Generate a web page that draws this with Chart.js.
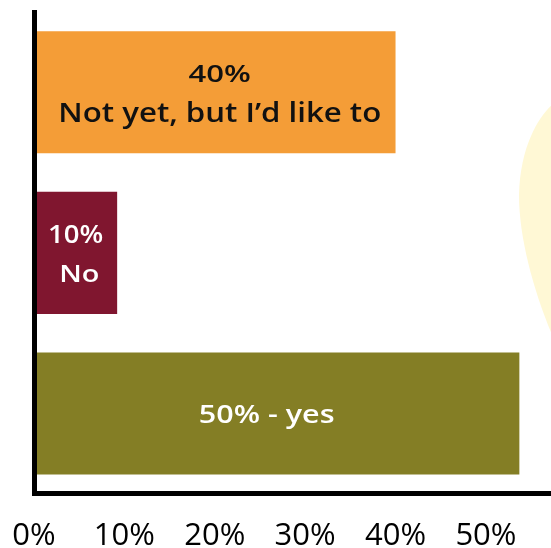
<!DOCTYPE html>
<html><head><meta charset="utf-8">
<script src="https://cdn.jsdelivr.net/npm/chart.js@4.4.1/dist/chart.umd.min.js"></script>
<style>
html,body{margin:0;padding:0;overflow:hidden;background:#fff}
#wrap{position:relative;width:551px;height:579px}
</style></head><body><div id="wrap"><canvas id="c"></canvas></div>
<script>
const categories = ['Not yet, but I\u2019d like to', 'No', 'yes'];
const values = [40, 9.2, 53.7];
const labelLines = [['40%', 'Not yet, but I\u2019d like to'], ['10%', ' No'], ['50% - yes']];
const barColors = ['#F49D37', '#80162F', '#847E25'];
const textColors = ['#111111', '#ffffff', '#ffffff'];
const tickValues = [0, 10, 20, 30, 40, 50];
const tickLabels = ['0%', '10%', '20%', '30%', '40%', '50%'];

const bulbPlugin = {
  id: 'bulb',
  beforeDraw(chart) {
    const ctx = chart.ctx, W = chart.width;
    ctx.save();
    ctx.fillStyle = '#FFF8D5';
    ctx.beginPath();
    ctx.moveTo(W + 2, 104);
    ctx.bezierCurveTo(540, 115, 520, 145, 519, 195);
    ctx.bezierCurveTo(519, 240, 535, 295, W + 2, 337);
    ctx.closePath();
    ctx.fill();
    ctx.restore();
  }
};

// text styling per label line: [font size, horizontal stretch]
const textStyle = [[[22.5, 1.38], [27, 1.155]], [[25, 1.1], [24, 1.2]], [[25, 1.22]]];
const textShift = [5, 0, -10];

const barTextPlugin = {
  id: 'barText',
  afterDatasetsDraw(chart) {
    const ctx = chart.ctx;
    const meta = chart.getDatasetMeta(0);
    meta.data.forEach((bar, i) => {
      const p = bar.getProps(['x', 'y', 'base'], true);
      const cx = (p.x + p.base) / 2 + textShift[i];
      const lines = labelLines[i];
      lines.forEach((t, j) => {
        const [sz, sx] = textStyle[i][j];
        let by;
        if (lines.length === 1) by = p.y + 9.5;
        else by = p.y + (j === 0 ? -10 : 29.5);
        ctx.save();
        ctx.fillStyle = textColors[i];
        ctx.textAlign = 'center';
        ctx.textBaseline = 'alphabetic';
        ctx.font = '600 ' + sz + 'px "Open Sans"';
        ctx.translate(cx, by);
        ctx.scale(sx, 1);
        ctx.fillText(t, 0, 0);
        ctx.restore();
      });
    });
  }
};

function noPad(scale) {
  scale.paddingLeft = 0; scale.paddingRight = 0;
  scale.paddingTop = 0; scale.paddingBottom = 0;
}

new Chart(document.getElementById('c'), {
  type: 'bar',
  data: {
    labels: categories,
    datasets: [{
      data: values,
      backgroundColor: barColors,
      borderWidth: 0,
      barPercentage: 0.76,
      categoryPercentage: 1
    }]
  },
  options: {
    indexAxis: 'y',
    responsive: true,
    maintainAspectRatio: false,
    animation: false,
    layout: { padding: { left: 34, top: 12, right: 0, bottom: 0 } },
    plugins: { legend: { display: false }, tooltip: { enabled: false } },
    scales: {
      y: {
        type: 'category',
        afterFit: noPad,
        grid: { display: false, drawTicks: false },
        ticks: { display: false },
        border: { display: true, color: '#000', width: 5, z: 1 }
      },
      x: {
        type: 'linear',
        min: 0,
        max: 57.2,
        afterBuildTicks(scale) { scale.ticks = tickValues.map(v => ({ value: v })); },
        afterFit: noPad,
        grid: { display: false, drawTicks: false },
        border: { display: true, color: '#000', width: 5, z: 1 },
        ticks: {
          color: '#000',
          padding: 24,
          font: { family: 'Open Sans', size: 31 },
          maxRotation: 0,
          autoSkip: false,
          callback: (v) => tickLabels[tickValues.indexOf(v)]
        }
      }
    }
  },
  plugins: [bulbPlugin, barTextPlugin]
});
</script></body></html>
